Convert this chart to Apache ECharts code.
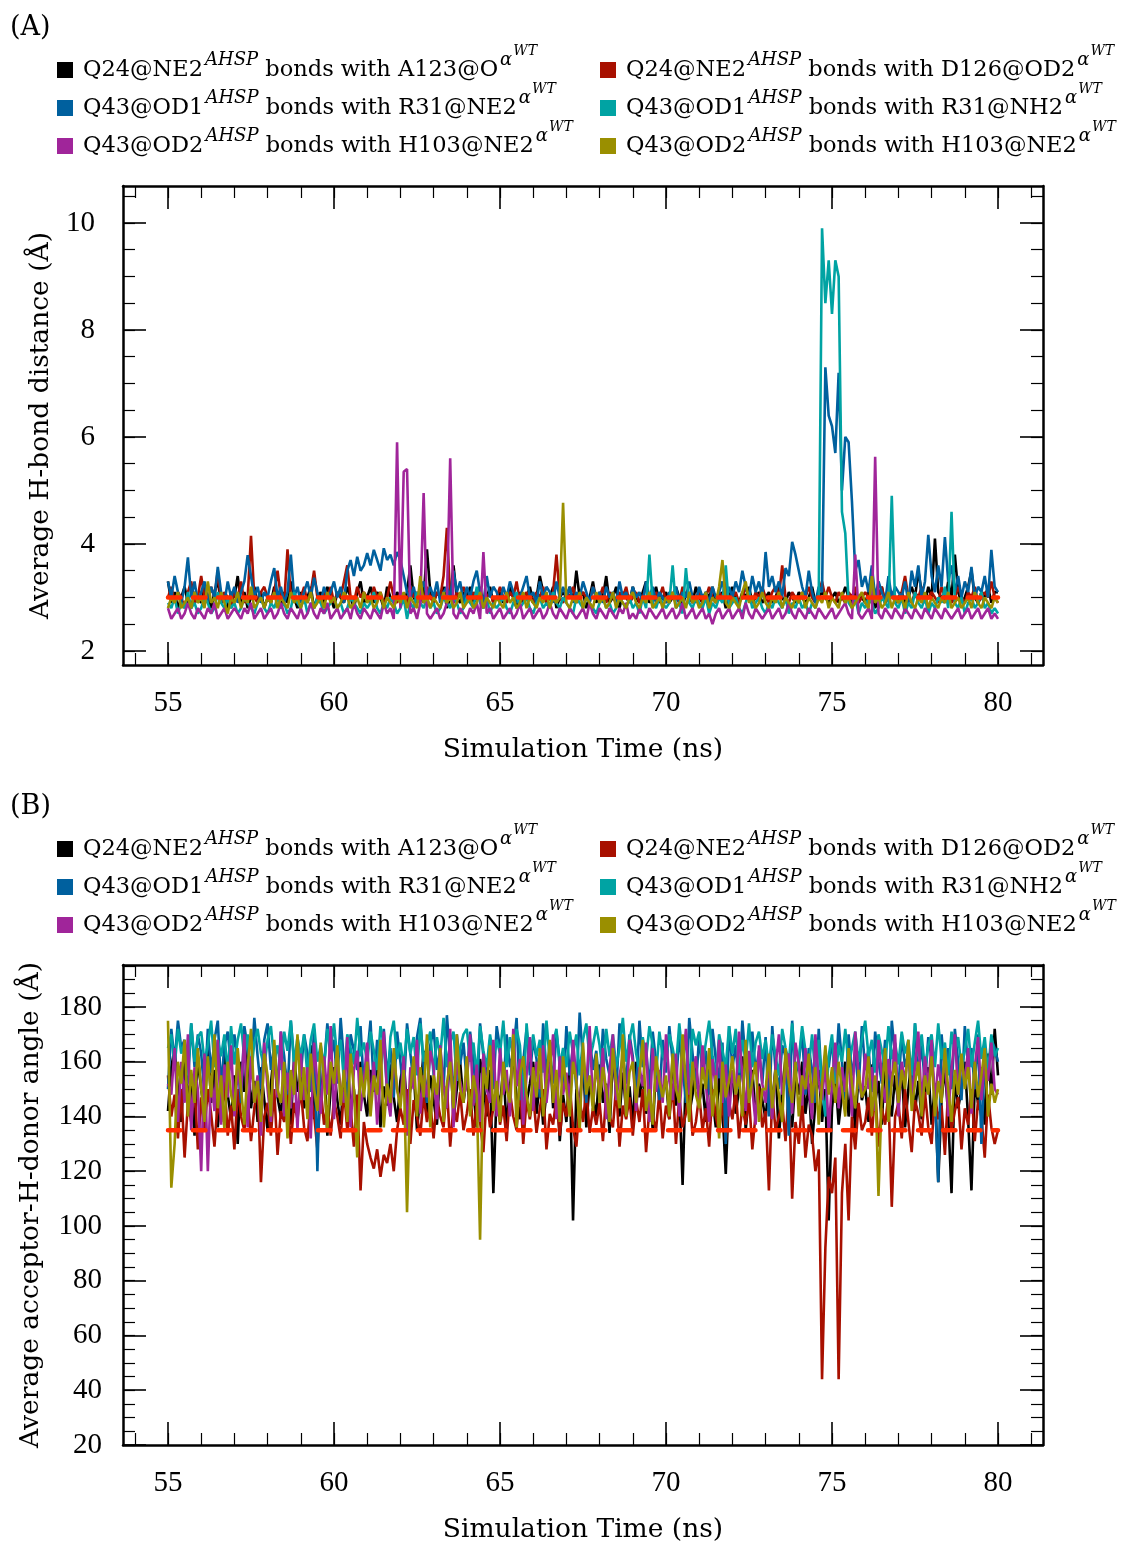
<!DOCTYPE html>
<html>
<head>
<meta charset="utf-8">
<script src="https://cdn.jsdelivr.net/npm/echarts@6/dist/echarts.min.js"></script>
<style>
  html, body { margin: 0; background: #fff; }
  #chart { width: 1137px; height: 1546px; }
</style>
</head>
<body>
<div id="chart"></div>
<script>
// simulation time, ns
const TIME = [
  55,55.1,55.2,55.3,55.4,55.5,55.6,55.7,55.8,55.9,
  56,56.1,56.2,56.3,56.4,56.5,56.6,56.7,56.8,56.9,
  57,57.1,57.2,57.3,57.4,57.5,57.6,57.7,57.8,57.9,
  58,58.1,58.2,58.3,58.4,58.5,58.6,58.7,58.8,58.9,
  59,59.1,59.2,59.3,59.4,59.5,59.6,59.7,59.8,59.9,
  60,60.1,60.2,60.3,60.4,60.5,60.6,60.7,60.8,60.9,
  61,61.1,61.2,61.3,61.4,61.5,61.6,61.7,61.8,61.9,
  62,62.1,62.2,62.3,62.4,62.5,62.6,62.7,62.8,62.9,
  63,63.1,63.2,63.3,63.4,63.5,63.6,63.7,63.8,63.9,
  64,64.1,64.2,64.3,64.4,64.5,64.6,64.7,64.8,64.9,
  65,65.1,65.2,65.3,65.4,65.5,65.6,65.7,65.8,65.9,
  66,66.1,66.2,66.3,66.4,66.5,66.6,66.7,66.8,66.9,
  67,67.1,67.2,67.3,67.4,67.5,67.6,67.7,67.8,67.9,
  68,68.1,68.2,68.3,68.4,68.5,68.6,68.7,68.8,68.9,
  69,69.1,69.2,69.3,69.4,69.5,69.6,69.7,69.8,69.9,
  70,70.1,70.2,70.3,70.4,70.5,70.6,70.7,70.8,70.9,
  71,71.1,71.2,71.3,71.4,71.5,71.6,71.7,71.8,71.9,
  72,72.1,72.2,72.3,72.4,72.5,72.6,72.7,72.8,72.9,
  73,73.1,73.2,73.3,73.4,73.5,73.6,73.7,73.8,73.9,
  74,74.1,74.2,74.3,74.4,74.5,74.6,74.7,74.8,74.9,
  75,75.1,75.2,75.3,75.4,75.5,75.6,75.7,75.8,75.9,
  76,76.1,76.2,76.3,76.4,76.5,76.6,76.7,76.8,76.9,
  77,77.1,77.2,77.3,77.4,77.5,77.6,77.7,77.8,77.9,
  78,78.1,78.2,78.3,78.4,78.5,78.6,78.7,78.8,78.9,
  79,79.1,79.2,79.3,79.4,79.5,79.6,79.7,79.8,79.9,
  80
];

// (A) average H-bond distance, Å
const DIST_A123_O = [
  3.3,2.9,3.1,2.8,3.0,3.2,2.9,2.8,3.1,3.0,
  2.9,3.2,3.0,2.8,3.1,3.3,2.9,3.0,2.8,3.1,
  3.0,3.4,2.9,3.1,2.8,3.0,3.2,2.9,3.1,2.8,
  3.0,2.9,3.2,3.0,2.8,3.1,2.9,3.3,3.0,2.8,
  3.1,2.9,3.0,3.2,2.8,3.0,3.1,2.9,3.2,3.0,
  2.8,3.1,3.0,2.9,3.2,3.0,2.8,3.1,3.3,2.9,
  3.0,3.2,2.9,3.1,3.0,2.8,3.2,3.0,2.9,3.1,
  3.0,2.9,3.1,3.6,3.0,2.9,3.2,3.0,3.9,3.1,
  2.9,3.1,3.0,3.2,2.8,3.0,3.6,3.0,2.9,3.1,
  3.0,3.2,2.9,3.0,3.1,2.8,3.0,3.2,2.9,3.0,
  3.1,2.9,3.0,3.2,3.0,2.8,3.1,2.9,3.0,3.2,
  2.9,3.0,3.4,3.1,2.9,3.0,3.2,2.8,3.0,3.1,
  3.0,3.2,2.9,3.5,3.0,3.1,2.8,3.0,3.3,2.9,
  3.1,3.0,3.4,2.9,3.0,3.2,2.8,3.1,3.0,2.9,
  3.2,3.0,2.9,3.1,3.3,2.9,3.0,3.2,2.9,3.0,
  3.1,2.9,3.0,3.2,3.0,2.8,3.1,3.0,2.9,3.2,
  3.0,2.9,3.1,3.0,3.2,2.9,3.0,3.1,2.8,3.0,
  3.2,3.0,2.9,3.1,3.0,3.2,2.9,3.0,3.1,2.9,
  3.0,3.1,2.9,3.0,3.2,3.0,2.9,3.1,3.0,2.9,
  3.1,3.0,2.9,3.0,3.2,2.9,3.0,3.1,3.0,2.9,
  3.0,3.1,2.9,3.0,3.2,3.0,2.9,3.1,3.0,3.0,
  2.9,3.1,3.0,2.8,3.0,3.2,2.9,3.0,3.1,2.9,
  3.0,3.1,2.9,3.0,3.2,3.0,3.5,3.1,2.9,3.2,
  3.0,4.1,3.1,3.0,2.9,3.3,3.0,3.8,3.1,2.9,
  3.0,3.2,3.5,3.0,2.9,3.1,3.0,3.2,2.9,3.1,
  3.1
];
const DIST_D126_OD2 = [
  3.0,3.2,2.9,3.1,3.0,2.8,3.1,3.3,2.9,3.0,
  3.4,3.0,2.9,3.2,3.0,3.5,2.9,3.1,3.0,2.8,
  3.1,3.0,3.3,2.9,3.0,4.15,3.0,2.9,3.1,3.2,
  3.0,2.9,3.1,3.5,3.0,2.9,3.9,3.0,3.1,2.9,
  3.0,3.2,2.9,3.1,3.5,3.0,2.9,3.1,3.0,3.2,
  2.9,3.1,3.0,3.3,3.6,3.0,2.9,3.2,3.0,3.1,
  3.0,2.9,3.2,3.0,3.1,2.9,3.0,3.3,3.0,2.9,
  3.1,3.0,2.9,3.2,3.0,3.1,3.0,2.9,3.2,3.0,
  2.9,3.1,3.0,3.4,4.3,3.0,2.9,3.1,3.0,3.2,
  3.0,2.9,3.1,3.0,3.2,2.9,3.0,3.1,2.9,3.0,
  3.2,3.0,2.9,3.1,3.0,3.3,2.9,3.0,3.1,3.0,
  2.9,3.1,3.0,3.2,2.9,3.0,3.1,3.8,3.0,2.9,
  3.1,3.0,3.2,2.9,3.0,3.1,3.0,2.9,3.2,3.0,
  3.0,3.2,2.9,3.1,3.0,2.9,3.1,3.0,3.2,2.9,
  3.0,3.1,2.9,3.0,3.2,3.0,2.9,3.1,3.0,3.2,
  2.9,3.0,3.1,3.0,2.9,3.2,3.0,3.1,2.9,3.0,
  3.1,2.9,3.0,3.2,3.0,2.9,3.1,3.0,3.3,2.9,
  3.0,3.1,2.9,3.0,3.2,3.0,2.9,3.1,3.0,3.2,
  3.0,2.9,3.1,3.2,3.0,3.6,3.0,2.9,3.1,3.0,
  2.9,3.1,3.0,3.2,3.0,2.9,3.1,3.3,3.0,3.2,
  3.0,2.9,3.1,3.0,2.9,3.1,3.0,3.2,2.9,3.0,
  3.1,3.0,2.9,3.1,3.0,3.2,2.9,3.0,3.1,3.0,
  2.9,3.1,3.4,3.0,2.9,3.1,3.0,3.2,2.9,3.0,
  3.1,3.0,2.9,3.2,3.0,3.1,2.9,3.0,3.2,3.0,
  2.9,3.1,3.0,3.2,2.9,3.0,3.1,3.0,3.3,3.0,
  2.9
];
const DIST_R31_NE2 = [
  3.3,3.0,3.4,3.1,2.9,3.2,3.75,3.0,3.3,2.9,
  3.1,3.3,2.9,3.2,3.0,3.57,3.1,2.9,3.3,3.0,
  3.2,2.9,3.1,3.3,3.79,3.4,3.0,3.2,2.9,3.1,
  3.0,3.3,3.55,3.0,3.2,2.9,3.1,3.8,3.0,3.2,
  2.9,3.1,3.3,3.0,3.37,3.1,2.9,3.2,3.0,3.1,
  3.3,3.0,3.2,2.9,3.5,3.7,3.4,3.76,3.5,3.6,
  3.83,3.6,3.89,3.7,3.5,3.92,3.7,3.8,3.6,3.85,
  3.7,3.4,3.1,3.0,3.2,2.9,3.1,3.3,3.0,3.2,
  3.0,3.3,2.9,3.1,3.2,3.0,3.5,3.1,3.3,2.9,
  3.2,3.0,3.3,3.5,3.1,2.9,3.4,3.0,3.2,3.1,
  2.9,3.2,3.0,3.3,3.1,2.9,3.0,3.2,3.4,3.0,
  3.1,2.9,3.3,3.0,3.2,3.1,2.9,3.3,3.0,3.2,
  3.0,3.2,2.9,3.1,3.0,3.3,3.1,2.9,3.2,3.0,
  3.1,2.9,3.2,3.0,3.1,2.9,3.3,3.0,3.1,2.9,
  3.2,3.0,3.1,2.9,3.3,3.0,3.2,2.9,3.1,3.0,
  2.9,3.1,3.0,3.2,2.9,3.1,3.0,3.3,3.0,2.9,
  3.2,3.0,3.1,2.9,3.2,3.0,3.1,3.3,3.0,3.2,
  3.0,3.3,3.1,3.5,3.2,3.0,3.4,3.1,3.3,3.0,
  3.85,3.2,3.4,3.1,3.3,3.0,3.55,3.4,4.04,3.8,
  3.5,3.2,3.0,3.5,3.1,2.9,3.2,3.1,7.3,6.4,
  6.2,5.7,7.2,5.0,6.0,5.9,4.8,3.5,3.7,3.2,
  3.4,3.1,3.6,3.0,3.3,3.1,2.9,3.4,3.0,3.2,
  3.1,3.0,3.3,2.9,3.5,3.2,3.6,3.0,3.3,4.17,
  3.4,3.1,3.6,3.2,4.13,3.3,3.6,3.1,3.4,3.0,
  3.3,3.1,3.57,3.0,3.2,3.1,3.4,3.0,3.89,3.2,
  3.1
];
const DIST_R31_NH2 = [
  2.9,2.8,3.0,2.7,2.9,2.8,3.1,2.8,2.9,2.7,
  2.8,3.0,2.9,2.7,2.8,3.1,2.9,2.8,3.0,2.8,
  2.9,2.7,2.8,3.0,2.9,2.8,2.7,2.9,3.0,2.8,
  2.7,2.9,2.8,3.0,2.8,2.9,2.7,2.8,3.1,2.9,
  2.8,3.0,2.7,2.9,2.8,3.0,2.9,2.7,2.8,2.9,
  3.0,2.8,2.9,2.7,2.8,3.0,2.9,2.8,2.7,2.9,
  2.8,2.9,3.1,2.8,2.7,2.9,2.8,3.0,2.9,2.7,
  2.8,3.0,2.6,2.9,2.8,3.1,2.9,2.8,3.0,2.8,
  2.9,2.7,2.8,3.0,2.9,2.8,3.0,2.9,2.7,2.8,
  3.0,2.9,2.8,3.2,2.9,2.8,3.0,2.7,2.9,2.8,
  2.9,3.0,2.8,2.7,2.9,3.1,2.8,2.9,3.0,2.8,
  2.7,2.9,3.0,2.8,2.9,2.8,3.1,2.9,2.8,3.0,
  2.9,2.8,2.7,3.0,2.9,2.8,3.0,2.9,2.8,2.7,
  2.9,3.0,2.8,2.9,2.7,2.8,3.0,2.9,2.8,3.0,
  2.8,2.9,2.7,3.0,2.8,3.8,2.9,2.8,3.0,2.9,
  2.8,2.9,3.6,2.8,2.9,2.7,3.55,2.9,2.8,3.0,
  2.9,2.8,3.0,2.7,2.9,2.8,3.0,2.9,3.6,2.8,
  2.9,3.0,2.8,2.7,2.9,3.1,2.8,2.9,3.0,2.8,
  2.7,2.9,2.8,3.0,2.9,2.8,3.0,2.7,2.9,2.8,
  3.0,2.8,2.9,2.7,2.9,2.8,3.0,9.9,8.5,9.3,
  8.3,9.3,9.0,4.6,4.2,2.9,2.8,3.0,2.7,2.9,
  2.8,3.0,2.9,2.7,2.8,3.0,2.9,2.8,4.9,2.9,
  2.8,3.0,2.7,2.9,2.8,3.1,2.9,2.8,3.0,2.7,
  2.9,2.8,3.0,2.9,3.2,2.8,4.6,2.9,2.8,3.0,
  2.7,2.9,3.0,2.8,2.9,3.1,2.8,2.9,2.7,2.8,
  2.7
];
const DIST_H103_NE2 = [
  2.8,2.6,2.7,2.8,2.6,2.7,2.9,2.7,2.6,2.8,
  2.7,2.6,2.8,2.7,2.9,2.6,2.7,2.8,2.6,2.7,
  2.8,2.7,2.6,2.8,2.7,2.9,2.6,2.7,2.8,2.6,
  2.7,2.8,2.6,2.7,2.9,2.7,2.6,2.8,2.7,2.6,
  2.8,2.6,2.7,2.9,2.7,2.6,2.8,2.7,2.9,2.6,
  2.7,2.8,2.6,2.7,2.8,2.6,2.9,2.7,2.6,2.8,
  2.7,2.6,2.8,2.7,2.6,2.9,2.7,2.8,2.6,5.9,
  2.8,5.35,5.4,2.7,2.8,2.6,2.9,4.95,2.7,2.6,
  2.7,2.8,2.6,2.7,2.9,5.6,2.7,2.6,2.8,2.7,
  2.6,2.8,2.7,2.9,2.6,3.85,2.7,2.8,2.6,2.7,
  2.8,2.6,2.7,2.8,2.6,2.7,2.9,2.6,2.7,2.8,
  2.6,2.7,2.8,2.6,2.7,2.9,2.7,2.6,2.8,2.7,
  2.6,2.8,2.7,2.6,2.7,2.8,2.6,2.9,2.7,2.6,
  2.8,2.7,2.6,2.8,2.7,2.6,2.8,2.7,2.9,2.6,
  2.7,2.6,2.8,2.7,2.6,2.8,2.7,2.6,2.7,2.8,
  2.6,2.7,2.8,2.6,2.7,2.9,2.6,2.7,2.8,2.6,
  2.7,2.8,2.6,2.7,2.5,2.7,2.8,2.6,2.7,2.8,
  2.6,2.7,2.8,2.6,2.9,2.7,2.6,2.8,2.7,2.6,
  2.7,2.8,2.6,2.7,2.8,2.6,2.7,2.9,2.7,2.6,
  2.8,2.7,2.6,2.8,2.7,2.6,2.8,2.7,2.6,2.7,
  2.8,2.6,2.7,2.8,2.9,2.7,2.6,3.8,2.7,2.6,
  2.7,2.8,2.6,5.63,2.7,2.6,2.8,2.7,2.6,2.8,
  2.7,2.6,2.8,2.7,2.6,2.8,2.7,2.6,2.8,2.7,
  2.6,2.8,2.7,2.6,2.8,2.7,2.6,2.7,2.8,2.6,
  2.7,2.8,2.6,2.7,2.8,2.6,2.7,2.8,2.6,2.7,
  2.6
];
const DIST_H103_NE2_B = [
  2.8,3.0,2.9,3.1,2.8,2.9,3.0,2.8,3.1,2.9,
  3.0,2.8,3.3,2.9,3.0,2.8,3.1,2.9,2.7,3.0,
  2.9,3.1,2.8,3.0,2.9,3.2,2.8,2.9,3.0,2.8,
  3.0,2.9,3.1,2.8,3.0,2.9,2.8,3.1,2.9,3.0,
  2.8,3.0,2.9,3.1,2.8,2.9,3.0,2.8,3.1,2.9,
  3.0,2.8,2.9,3.1,3.0,2.8,2.9,3.0,2.8,3.1,
  2.9,3.0,2.8,2.9,3.1,2.8,3.0,2.9,2.8,3.0,
  2.9,3.1,2.8,3.0,2.9,2.8,3.4,2.9,3.0,2.8,
  3.0,2.9,2.8,3.1,2.9,3.0,2.8,2.9,3.1,2.8,
  2.9,3.0,2.8,2.9,3.1,2.8,3.0,2.9,2.8,3.0,
  2.9,2.8,3.1,2.9,3.0,2.8,2.9,3.1,2.8,3.0,
  2.9,2.8,3.0,2.9,3.1,2.8,3.0,2.9,3.0,4.77,
  2.9,2.8,3.0,2.9,3.1,2.8,3.0,2.9,2.8,3.1,
  2.9,3.0,2.8,2.9,3.1,2.8,3.0,2.9,2.8,3.0,
  3.1,2.9,2.8,3.0,2.9,3.1,2.8,2.9,3.0,2.8,
  3.0,2.9,3.1,2.8,2.9,3.0,2.8,3.1,2.9,3.0,
  2.8,2.9,3.1,2.8,3.0,2.9,3.2,3.7,2.9,2.8,
  3.0,2.9,2.8,3.1,3.3,2.9,3.0,2.8,2.9,3.1,
  2.9,2.8,3.0,2.9,3.1,2.8,3.0,2.9,2.8,3.0,
  2.9,3.1,2.8,3.0,2.9,2.8,3.0,2.9,3.1,2.8,
  3.0,2.9,2.8,3.1,2.9,3.0,2.8,2.9,3.0,3.1,
  2.9,2.8,3.4,2.9,3.0,2.8,2.9,3.1,2.8,3.0,
  2.9,3.0,2.8,3.1,2.9,2.8,3.0,2.9,3.1,2.8,
  3.0,2.9,2.8,3.0,2.9,3.1,2.8,2.9,3.0,2.8,
  2.9,3.0,2.8,3.1,2.9,2.8,3.0,2.9,2.8,3.0,
  2.9
];

// (B) average acceptor-H-donor angle
const ANG_A123_O = [
  142,158,165,150,138,160,147,155,133,162,
  150,141,168,145,157,136,152,163,148,139,
  155,130,160,149,167,143,153,138,158,146,
  135,152,164,147,140,159,151,137,162,149,
  156,143,150,166,139,154,145,161,133,150,
  158,146,137,155,163,142,150,134,160,148,
  140,157,149,162,136,151,144,159,147,138,
  153,161,142,150,157,135,148,164,141,155,
  146,137,158,152,143,166,139,150,160,145,
  155,142,149,136,161,153,140,157,112,150,
  144,158,136,151,163,147,139,156,145,152,
  160,141,153,137,149,165,143,155,131,148,
  138,157,102,150,144,161,136,153,147,140,
  159,145,152,134,163,148,140,156,142,151,
  137,160,147,155,141,152,135,158,146,150,
  153,139,162,144,150,115,157,141,148,160,
  145,152,138,159,147,136,155,143,119,150,
  156,141,150,162,135,148,157,140,152,146,
  139,154,145,158,132,150,161,143,136,155,
  148,160,141,152,130,145,157,138,150,102,
  143,155,137,148,160,140,152,135,156,146,
  151,138,159,145,153,137,162,147,140,155,
  144,157,136,150,161,142,153,139,148,158,
  137,152,116,146,158,140,112,155,143,150,
  160,139,113,152,145,158,137,163,148,172,
  155
];
const ANG_D126_OD2 = [
  155,140,148,132,150,125,145,138,152,128,
  147,135,150,141,129,146,138,153,133,144,
  128,150,140,135,147,131,143,152,116,140,
  145,133,150,126,142,138,148,130,145,139,
  150,136,131,147,141,128,150,137,144,133,
  146,140,132,150,135,143,129,148,113,138,
  130,125,121,128,118,126,123,130,120,135,
  143,137,150,130,146,140,133,148,138,145,
  132,147,140,136,151,129,144,138,149,135,
  141,150,133,145,138,127,148,136,143,151,
  137,144,131,149,140,135,152,130,146,139,
  148,134,143,150,128,141,137,147,133,145,
  140,152,136,129,146,138,150,134,143,137,
  145,131,148,140,136,151,129,144,139,147,
  133,146,138,150,127,143,140,135,149,132,
  144,139,152,130,147,136,141,150,133,138,
  148,135,143,129,150,140,134,146,131,145,
  139,150,132,144,137,147,128,141,151,136,
  142,113,148,135,140,145,131,150,110,138,
  130,146,125,137,133,120,128,44,92,118,
  112,125,44,112,130,102,140,128,145,135,
  138,147,133,150,129,143,137,148,107,140,
  145,132,150,138,127,146,141,133,149,136,
  130,148,139,144,126,150,135,142,147,128,
  143,137,150,131,146,140,125,148,136,130,
  135
];
const ANG_R31_NE2 = [
  150,172,160,175,165,168,152,174,158,170,
  163,148,172,156,168,175,150,166,171,158,
  170,160,145,173,165,155,176,162,150,168,
  174,157,166,150,171,162,148,175,160,167,
  155,170,163,149,172,120,165,158,174,161,
  168,152,176,160,145,170,164,157,173,150,
  162,175,150,168,158,172,155,165,147,171,
  160,148,174,163,152,169,176,158,145,166,
  172,157,165,150,177,161,148,170,159,167,
  153,171,160,145,174,162,155,168,150,173,
  165,150,170,158,163,176,146,160,172,155,
  168,161,147,174,156,165,152,171,160,149,
  173,155,166,150,178,160,145,169,157,164,
  150,172,161,155,167,148,174,163,152,170,
  162,147,175,158,165,150,171,160,146,168,
  156,173,160,152,169,158,145,176,163,150,
  170,155,164,148,172,161,154,167,130,173,
  158,166,150,175,160,147,171,156,164,152,
  169,140,173,157,150,166,162,133,175,155,
  160,171,148,165,157,145,172,150,163,158,
  168,152,174,160,146,170,155,163,150,173,
  157,165,149,171,160,152,168,145,175,162,
  150,170,158,163,147,174,155,166,152,169,
  161,148,116,170,156,165,150,172,160,146,
  173,158,165,150,170,130,162,155,168,165,
  160
];
const ANG_R31_NH2 = [
  165,170,158,172,163,167,155,174,160,169,
  171,160,166,175,158,168,162,170,156,173,
  159,168,174,161,170,155,167,172,163,158,
  168,173,160,166,157,171,164,175,159,169,
  162,170,155,168,174,160,166,158,172,164,
  174,161,168,153,170,165,159,176,162,167,
  160,171,164,157,173,166,150,169,175,161,
  167,158,172,163,169,155,174,160,166,171,
  155,169,162,176,158,167,171,153,165,170,
  172,160,167,155,173,164,158,170,162,168,
  163,175,158,169,161,172,166,145,174,160,
  170,162,168,156,175,160,167,172,158,165,
  158,171,163,170,155,168,174,161,166,173,
  166,155,172,162,170,158,165,176,160,168,
  174,163,157,169,161,173,166,155,171,162,
  160,170,165,158,174,162,168,152,172,166,
  171,159,167,175,162,155,170,164,158,173,
  163,172,156,168,160,174,158,167,171,161,
  168,158,170,162,155,172,165,160,174,157,
  161,173,164,158,170,155,168,150,140,162,
  170,152,166,160,172,158,165,171,160,168,
  175,162,168,156,170,164,158,173,161,167,
  159,171,163,168,155,174,162,170,157,166,
  170,158,174,161,167,155,171,163,169,158,
  164,172,158,167,175,161,169,156,170,162,
  165
];
const ANG_H103_NE2 = [
  152,148,165,138,160,145,170,135,158,150,
  120,163,120,155,142,168,137,159,147,166,
  140,157,149,170,136,162,145,155,133,167,
  150,138,164,147,171,140,156,143,160,135,
  163,146,158,132,167,152,141,162,148,173,
  139,160,151,145,169,136,157,164,142,153,
  167,144,160,137,155,171,148,140,163,150,
  145,162,133,158,150,168,141,155,147,164,
  158,139,166,151,143,172,136,160,153,147,
  152,170,144,159,138,163,150,145,168,140,
  165,148,157,140,172,151,161,137,155,169,
  142,160,150,166,145,157,170,139,162,148,
  156,145,168,153,140,163,150,173,144,159,
  148,165,139,157,170,146,155,162,141,168,
  160,142,158,151,167,138,165,149,157,145,
  170,153,146,163,140,158,172,148,155,162,
  143,166,152,138,161,150,168,145,159,140,
  157,148,171,155,142,164,150,137,166,152,
  145,162,139,158,170,148,155,163,141,167,
  159,144,165,150,139,170,153,146,160,135,
  152,167,143,158,149,163,140,171,155,147,
  163,150,158,142,168,155,145,161,151,170,
  140,160,153,165,146,158,171,144,162,150,
  168,145,159,151,163,140,157,170,148,161,
  152,165,141,158,169,146,160,153,167,150,
  148
];
const ANG_H103_NE2_B = [
  175,114,130,160,152,168,140,157,145,165,
  150,138,162,147,170,143,155,135,160,148,
  142,165,150,137,158,172,145,153,138,163,
  155,140,168,150,145,160,132,157,148,170,
  146,158,139,163,150,142,167,153,135,160,
  152,166,144,157,138,163,150,125,158,147,
  160,140,155,148,168,136,152,145,165,150,
  143,157,105,150,162,140,158,147,170,136,
  155,148,165,138,152,160,143,170,150,145,
  162,140,155,148,95,158,150,166,142,153,
  138,160,150,145,170,136,155,162,148,140,
  158,147,165,140,153,168,145,157,138,162,
  150,140,160,153,135,167,148,155,142,163,
  145,158,150,138,165,152,143,170,140,156,
  160,145,155,168,142,150,137,162,153,147,
  155,140,163,150,145,170,152,138,160,148,
  143,158,150,165,140,155,132,160,147,153,
  162,148,155,140,168,145,153,160,138,150,
  150,163,143,157,148,138,165,152,145,160,
  140,155,150,163,145,158,137,152,166,148,
  158,145,160,150,140,165,152,143,157,147,
  150,162,140,155,111,148,165,138,153,160,
  145,157,150,168,142,152,160,140,155,148,
  162,140,153,145,165,150,138,157,148,163,
  150,158,143,160,147,155,165,140,152,145,
  150
];

const CUTOFF_DIST = 3.0;
const CUTOFF_ANGLE = 135;

const X_MAJOR = [55, 60, 65, 70, 75, 80];
const X_MINOR = [54, 55, 56, 57, 58, 59, 60, 61, 62, 63, 64, 65, 66, 67, 68, 69, 70, 71, 72, 73, 74, 75, 76, 77, 78, 79, 80, 81];
const DIST_MAJOR = [2, 4, 6, 8, 10];
const DIST_MINOR = [2, 2.5, 3, 3.5, 4, 4.5, 5, 5.5, 6, 6.5, 7, 7.5, 8, 8.5, 9, 9.5, 10, 10.5];
const ANG_MAJOR = [20, 40, 60, 80, 100, 120, 140, 160, 180];
const ANG_MINOR = [20, 25, 30, 35, 40, 45, 50, 55, 60, 65, 70, 75, 80, 85, 90, 95, 100, 105, 110, 115, 120, 125, 130, 135, 140, 145, 150, 155, 160, 165, 170, 175, 180, 185, 190, 195];

const DONORS = ['Q24@NE2', 'Q24@NE2', 'Q43@OD1', 'Q43@OD1', 'Q43@OD2', 'Q43@OD2'];
const ACCEPTORS = ['A123@O', 'D126@OD2', 'R31@NE2', 'R31@NH2', 'H103@NE2', 'H103@NE2'];
const SERIES_NAMES = ['s1', 's2', 's3', 's4', 's5', 's6'];
const COLORS = ['#000000', '#a81000', '#00609e', '#00a3a3', '#a0259a', '#9a8f00'];

const DIST_SERIES = [DIST_A123_O, DIST_D126_OD2, DIST_R31_NE2, DIST_R31_NH2, DIST_H103_NE2, DIST_H103_NE2_B];
const ANG_SERIES = [ANG_A123_O, ANG_D126_OD2, ANG_R31_NE2, ANG_R31_NH2, ANG_H103_NE2, ANG_H103_NE2_B];

const NUM_FONT = 'Liberation Serif';
const TXT_FONT = 'DejaVu Serif';
const X_MIN = 53.645, X_MAX = 81.355;

const chart = echarts.init(document.getElementById('chart'), null, { renderer: 'canvas' });

// main axis (labels + major ticks), minor ticks, opposite major, opposite minor
function frameAxes(dim, grid, min, max, major, minor, o) {
  const pos = dim === 'x' ? ['bottom', 'top'] : ['left', 'right'];
  const line = { show: true, onZero: false, lineStyle: { color: '#000', width: 2.5 } };
  const noLine = { show: false, onZero: false };
  const tick = (vals, len, w) => ({
    show: true, inside: true, length: len, customValues: vals,
    lineStyle: { color: '#000', width: w }
  });
  const base = { type: 'value', gridIndex: grid, min: min, max: max, splitLine: { show: false } };
  return [
    Object.assign({}, base, {
      position: pos[0], axisLine: line, axisTick: tick(major, 23, 1.6),
      axisLabel: { customValues: major, margin: o.margin, fontSize: 29, fontFamily: NUM_FONT, color: '#000' },
      name: o.name, nameLocation: 'middle', nameGap: o.nameGap,
      nameTextStyle: { fontSize: 26.5, fontFamily: TXT_FONT, color: '#000' }
    }),
    Object.assign({}, base, { position: pos[0], axisLine: noLine, axisTick: tick(minor, 12, 1.2), axisLabel: { show: false } }),
    Object.assign({}, base, { position: pos[1], axisLine: line, axisTick: tick(major, 23, 1.6), axisLabel: { show: false } }),
    Object.assign({}, base, { position: pos[1], axisLine: noLine, axisTick: tick(minor, 12, 1.2), axisLabel: { show: false } })
  ];
}

// superscripts are lifted with bottom padding (tokens are middle aligned)
const RICH = {
  f: { fontSize: 22.5, lineHeight: 30, fontFamily: TXT_FONT, color: '#000', padding: [0, 0, 0, 5] },
  m: { fontSize: 22.5, lineHeight: 30, fontFamily: TXT_FONT, color: '#000' },
  s: { fontSize: 18, lineHeight: 18, fontFamily: TXT_FONT, fontStyle: 'italic', color: '#000', padding: [0, 0, 19, 2] },
  w: { fontSize: 14, lineHeight: 14, fontFamily: TXT_FONT, fontStyle: 'italic', color: '#000', padding: [0, 0, 38, 1] }
};
const LEGEND_TEXT = {};
SERIES_NAMES.forEach((n, i) => {
  LEGEND_TEXT[n] = '{f|' + DONORS[i] + '}{s|AHSP}{m| bonds with ' + ACCEPTORS[i] + '}{s|α}{w|WT}';
});

// the padded superscripts make each item 52px tall; rows sit 38px apart
function legendCol(left, top, names) {
  return {
    orient: 'vertical', left: left, top: top, padding: 0, itemGap: -14,
    itemWidth: 16, itemHeight: 16, icon: 'rect', selectedMode: false,
    data: names,
    formatter: n => LEGEND_TEXT[n],
    textStyle: { rich: RICH }
  };
}

function panelSeries(values, axisIdx, cutoff) {
  const out = values.map((vals, i) => ({
    name: SERIES_NAMES[i], type: 'line', xAxisIndex: axisIdx, yAxisIndex: axisIdx,
    showSymbol: false, symbol: 'none', color: COLORS[i],
    lineStyle: { width: 2.6, color: COLORS[i] },
    data: TIME.map((t, k) => [t, vals[k]])
  }));
  out.push({
    name: 'cutoff', type: 'line', xAxisIndex: axisIdx, yAxisIndex: axisIdx,
    showSymbol: false, symbol: 'none', z: 5,
    lineStyle: { width: 4.5, color: '#ff2d00', type: [12.5, 12.5], cap: 'round' },
    data: [[TIME[0], cutoff], [TIME[TIME.length - 1], cutoff]]
  });
  return out;
}

const option = {
  animation: false,
  backgroundColor: '#fff',
  grid: [
    { left: 123, top: 186, width: 920, height: 479 },
    { left: 123, top: 965, width: 920, height: 480 }
  ],
  xAxis: [].concat(
    frameAxes('x', 0, X_MIN, X_MAX, X_MAJOR, X_MINOR, { margin: 24, name: 'Simulation Time (ns)', nameGap: 72 }),
    frameAxes('x', 1, X_MIN, X_MAX, X_MAJOR, X_MINOR, { margin: 24, name: 'Simulation Time (ns)', nameGap: 72 })
  ),
  yAxis: [].concat(
    frameAxes('y', 0, 1.738, 10.69, DIST_MAJOR, DIST_MINOR, { margin: 28, name: 'Average H-bond distance (Å)', nameGap: 58 }),
    frameAxes('y', 1, 20, 195.34, ANG_MAJOR, ANG_MINOR, { margin: 21, name: 'Average acceptor-H-donor angle (Å)', nameGap: 78 })
  ),
  legend: [
    legendCol(57, 44, ['s1', 's3', 's5']),
    legendCol(600, 44, ['s2', 's4', 's6']),
    legendCol(57, 823, ['s1', 's3', 's5']),
    legendCol(600, 823, ['s2', 's4', 's6'])
  ],
  graphic: [
    { type: 'text', left: 10, top: 14, style: { text: '(A)', fontSize: 27, fontFamily: TXT_FONT, fill: '#000' } },
    { type: 'text', left: 10, top: 793, style: { text: '(B)', fontSize: 27, fontFamily: TXT_FONT, fill: '#000' } }
  ],
  series: [].concat(
    panelSeries(DIST_SERIES, 0, CUTOFF_DIST),
    panelSeries(ANG_SERIES, 4, CUTOFF_ANGLE)
  )
};

chart.setOption(option);
</script>
</body>
</html>
